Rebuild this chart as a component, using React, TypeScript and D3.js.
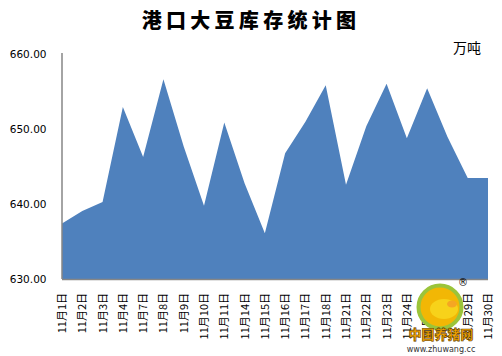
import React from "react";
import * as d3 from "d3";

const categories = [
  "11月1日", "11月2日", "11月3日", "11月4日", "11月7日", "11月8日", "11月9日",
  "11月10日", "11月11日", "11月14日", "11月15日", "11月16日", "11月17日", "11月18日",
  "11月21日", "11月22日", "11月23日", "11月24日", "11月25日", "11月28日", "11月29日", "11月30日",
];
const stock = [
  637.4, 639.1, 640.3, 653.0, 646.3, 656.7, 647.7,
  639.8, 650.9, 642.8, 636.1, 646.8, 651.0, 655.9,
  642.6, 650.4, 656.1, 648.8, 655.5, 649.0, 643.5, 643.5,
];
const yTicks = [630, 640, 650, 660];
const title = "港口大豆库存统计图";
const unit = "万吨";

export default function App() {
  const W = 502, H = 356;
  const left = 62, right = 488, top = 54.5, bottom = 279;
  const x = d3.scalePoint<string>().domain(categories).range([left, right]);
  const y = d3.scaleLinear().domain([630, 660]).range([bottom, top]);
  const area = d3
    .area<number>()
    .x((_, i) => x(categories[i]) as number)
    .y0(bottom)
    .y1((d) => y(d));
  const cjk = "'Noto Sans CJK SC', sans-serif";
  return (
    <svg width={W} height={H} style={{ position: "absolute", left: 0, top: 0, background: "#fff" }}>
      <text x={251} y={28} textAnchor="middle" fontFamily={cjk} fontWeight={900} fontSize={20} letterSpacing={4.3} fill="#000">
        {title}
      </text>
      <text x={481} y={53} textAnchor="end" fontFamily={cjk} fontSize={14} fill="#000">
        {unit}
      </text>
      <path d={area(stock) || ""} fill="#4F81BD" />
      <line x1={left} x2={left} y1={53} y2={bottom} stroke="#868686" strokeWidth={1.5} />
      <line x1={left} x2={right} y1={bottom + 0.5} y2={bottom + 0.5} stroke="#868686" strokeWidth={1.5} />
      {yTicks.map((t) => (
        <text key={t} x={46.5} y={y(t)} dy="0.36em" textAnchor="end" fontFamily="'DejaVu Sans', Verdana, sans-serif" fontSize={10.5} fill="#000">
          {t.toFixed(2)}
        </text>
      ))}
      {categories.map((c) => {
        const cx = x(c) as number;
        return (
          <text key={c} transform={`translate(${cx},${293}) rotate(-90)`} dy="0.36em" textAnchor="end" fontFamily={cjk} fontSize={11} fill="#000">
            {c}
          </text>
        );
      })}
      <g>
        <circle cx={440} cy={307} r={21.5} fill="#f2b705" stroke="#9bc43a" strokeWidth={4} />
        <ellipse cx={444} cy={309} rx={14} ry={10} fill="#f7d21a" />
        <ellipse cx={452} cy={304} rx={5} ry={3.5} fill="#f5a623" />
        <text x={463} y={286} textAnchor="middle" fontFamily="'DejaVu Sans', sans-serif" fontSize={10} fill="#000">®</text>
        <text x={441} y={339} textAnchor="middle" fontFamily={cjk} fontWeight={900} fontSize={13} fill="#f7a600" stroke="#5a3a00" strokeWidth={0.6}>
          中国养猪网
        </text>
        <text x={441} y={352} textAnchor="middle" fontFamily="'DejaVu Sans', sans-serif" fontSize={8} fill="#333">
          www.zhuwang.cc
        </text>
      </g>
    </svg>
  );
}
